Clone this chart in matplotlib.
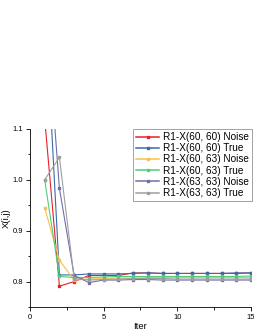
import matplotlib
matplotlib.use("Agg")
import matplotlib.pyplot as plt
from matplotlib.ticker import MultipleLocator

plt.rcParams['font.family'] = ['Liberation Sans', 'DejaVu Sans']

iters = list(range(1, 16))

r60_60_noise = [1.12, 0.791, 0.800, 0.812, 0.812, 0.812, 0.817, 0.817, 0.816, 0.816,
                0.816, 0.816, 0.816, 0.816, 0.817]
r60_60_true = [1.36, 0.813, 0.813, 0.815, 0.815, 0.815, 0.816, 0.817, 0.816, 0.816,
               0.816, 0.816, 0.816, 0.817, 0.817]
r60_63_noise = [0.945, 0.842, 0.803, 0.805, 0.806, 0.807, 0.807, 0.808, 0.808, 0.808,
                0.808, 0.808, 0.808, 0.808, 0.808]
r60_63_true = [1.0, 0.810, 0.808, 0.808, 0.809, 0.810, 0.810, 0.810, 0.810, 0.810,
               0.810, 0.810, 0.810, 0.810, 0.811]
r63_63_noise = [1.37, 0.983, 0.812, 0.798, 0.803, 0.803, 0.804, 0.804, 0.803, 0.803,
                0.803, 0.803, 0.803, 0.803, 0.803]
r63_63_true = [1.0, 1.044, 0.806, 0.803, 0.804, 0.805, 0.806, 0.806, 0.806, 0.805,
               0.805, 0.805, 0.805, 0.805, 0.805]

series = [
    ("R1-X(60, 60) Noise", r60_60_noise, "#e8202a"),
    ("R1-X(60, 60) True", r60_60_true, "#3b6aa8"),
    ("R1-X(60, 63) Noise", r60_63_noise, "#f7c244"),
    ("R1-X(60, 63) True", r60_63_true, "#4ccf78"),
    ("R1-X(63, 63) Noise", r63_63_noise, "#6f70aa"),
    ("R1-X(63, 63) True", r63_63_true, "#9e9e9e"),
]

fig = plt.figure(figsize=(2.58, 3.33), dpi=100)
ax = fig.add_axes([0.116, 0.078, 0.857, 0.535])

for label, vals, color in series:
    ax.plot(iters, vals, color=color, lw=0.8, marker='s', ms=1.8, label=label)

ax.set_xlim(0, 15)
ax.set_ylim(0.75, 1.1)
ax.xaxis.set_major_locator(MultipleLocator(5))
ax.xaxis.set_minor_locator(MultipleLocator(2.5))
ax.yaxis.set_major_locator(MultipleLocator(0.1))
ax.yaxis.set_minor_locator(MultipleLocator(0.05))
ax.tick_params(which='both', direction='out', labelsize=5.5, width=0.6, pad=2)
ax.tick_params(which='major', length=3)
ax.tick_params(which='minor', length=1.8)
for s in ['top', 'right']:
    ax.spines[s].set_visible(False)
for s in ['left', 'bottom']:
    ax.spines[s].set_linewidth(0.6)

ax.set_xlabel('Iter', fontsize=6.8, labelpad=1)
ax.set_ylabel('X(i,j)', fontsize=6.8)
ax.yaxis.set_label_coords(-0.085, 0.5)

leg = ax.legend(loc='upper right', bbox_to_anchor=(1.015, 1.01), fontsize=7.2, fancybox=False,
                edgecolor='#777777', handlelength=2.3, handletextpad=0.4,
                labelspacing=0.12, borderpad=0.3, borderaxespad=0.2)
leg.get_frame().set_linewidth(0.6)
for line in leg.get_lines():
    line.set_linewidth(1.1)

fig.savefig('out.png', dpi=100)
